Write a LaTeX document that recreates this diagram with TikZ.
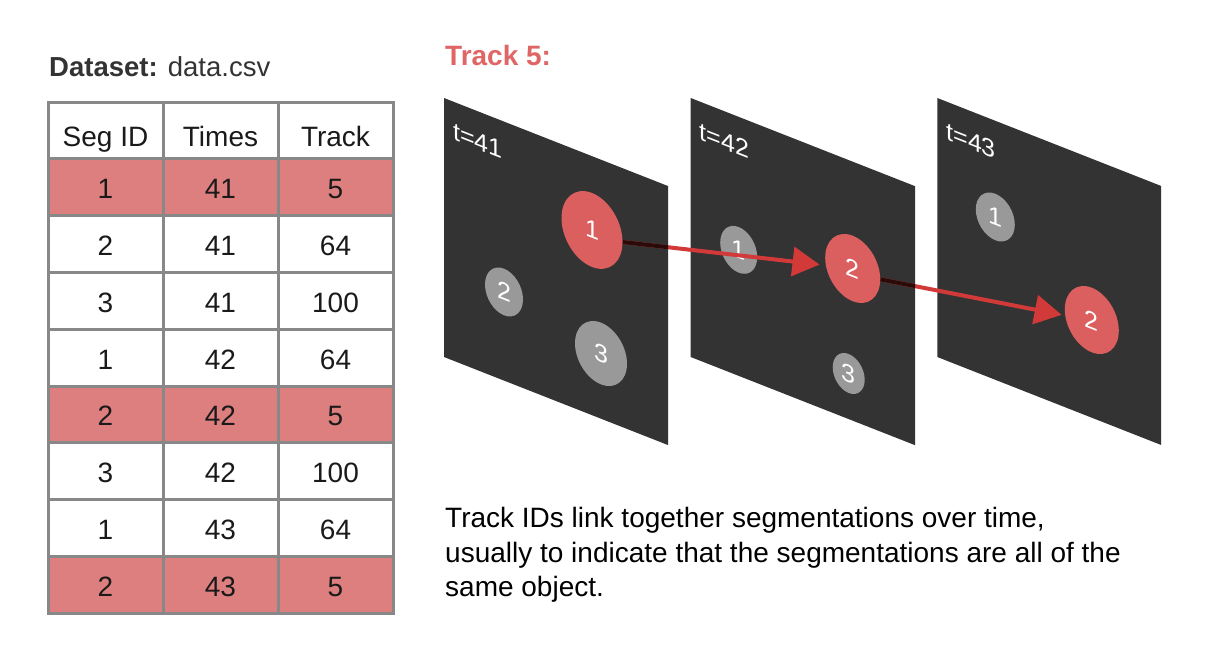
\documentclass[tikz,border=0pt]{standalone}
\usepackage{fontspec}
\setmainfont{Liberation Sans}
\usetikzlibrary{arrows.meta,shapes.geometric,calc}
\definecolor{tgray}{HTML}{888888}
\definecolor{pinkc}{HTML}{DE7F7F}
\definecolor{trackred}{HTML}{E06666}
\definecolor{ellred}{HTML}{DC5F5F}
\definecolor{arrred}{HTML}{D23A3A}
\definecolor{panelc}{HTML}{333333}
\definecolor{ellgray}{HTML}{999999}
\definecolor{darkline}{HTML}{2B0A0A}
\definecolor{txt}{HTML}{1A1A1A}
\pgfdeclarelayer{bg}
\pgfdeclarelayer{mid}
\pgfdeclarelayer{arr}
\pgfsetlayers{bg,mid,arr,main}
\begin{document}
\begin{tikzpicture}[x=1pt,y=-1pt,
  cell/.style={draw=tgray, line width=3pt, minimum width=115pt, minimum height=56.8pt,
    inner sep=0pt, font=\fontsize{28}{34}\selectfont, text=txt, text height=23pt, text depth=0pt},
  hdr/.style={cell, text height=32pt},
  hl/.style={cell, fill=pinkc},
  panel/.style={fill=panelc},
  ell/.style={ellipse, inner sep=0pt, transform shape, text=white, font=\fontsize{25}{30}\selectfont},
  redell/.style={ell, fill=ellred},
  grayell/.style={ell, fill=ellgray},
  tlabel/.style={anchor=base west, inner sep=0pt, transform shape, text=white, font=\fontsize{25}{30}\selectfont},
  arrowline/.style={draw=arrred, line width=4pt, -{Triangle[length=27pt,width=29pt]}},
  darkseg/.style={draw=darkline, line width=4pt}
]
\begin{pgfonlayer}{bg}
\fill[white] (0,0) rectangle (1231,664);
\end{pgfonlayer}
\useasboundingbox (0,0) rectangle (1231,664);

% title texts
\node[anchor=base west, inner sep=0pt, text=panelc, font=\fontsize{27.5}{30}\selectfont] (ds) at (49,76.7) {\textbf{Dataset:} data.csv};
\node[anchor=base west, inner sep=0pt, text=trackred, font=\fontsize{28}{30}\selectfont\bfseries] (tr) at (445,65.7) {Track 5:};

% table
\foreach \c/\t [count=\i from 0] in {Seg ID/h1,Times/h2,Track/h3}{
  \node[hdr] (\t) at ({105.5+115*\i},130.4) {\c};
}
\foreach \a/\b/\cc/\s [count=\r] in {1/41/5/hl,2/41/64/cell,3/41/100/cell,1/42/64/cell,2/42/5/hl,3/42/100/cell,1/43/64/cell,2/43/5/hl}{
  \node[\s] (r\r a) at (105.5,{102+56.8*(\r+0.5)}) {\a};
  \node[\s] (r\r b) at (220.5,{102+56.8*(\r+0.5)}) {\b};
  \node[\s] (r\r c) at (335.5,{102+56.8*(\r+0.5)}) {\cc};
}

% panel 1
\begin{scope}[shift={(444,98)}, cm={1,-0.393,0,1,(0,0)}]
  \begin{pgfonlayer}{bg}\fill[panel] (0,0) rectangle (224,259);\end{pgfonlayer}
  \begin{pgfonlayer}{mid}
    \node[tlabel] (t41) at (9,38) {t=41};
    \node[grayell, minimum width=38pt, minimum height=46.6pt] (p1b) at (60,170.4) {2};
    \node[grayell, minimum width=52pt, minimum height=61.7pt] (p1c) at (157,193.8) {3};
  \end{pgfonlayer}
  \node[redell, minimum width=61pt, minimum height=74pt] (p1a) at (148,73.8) {1};
\end{scope}

% panel 2
\begin{scope}[shift={(690.7,98)}, cm={1,-0.393,0,1,(0,0)}]
  \begin{pgfonlayer}{bg}\fill[panel] (0,0) rectangle (224.3,259);\end{pgfonlayer}
  \begin{pgfonlayer}{mid}
    \node[tlabel] (t42) at (9,38) {t=42};
    \node[grayell, minimum width=37pt, minimum height=45.7pt] (p2a) at (48,133) {1};
    \node[grayell, minimum width=32pt, minimum height=39pt] (p2c) at (158,213.4) {3};
  \end{pgfonlayer}
  \node[redell, minimum width=55pt, minimum height=65.5pt] (p2b) at (162,106.8) {2};
\end{scope}

% panel 3
\begin{scope}[shift={(937.3,98)}, cm={1,-0.393,0,1,(0,0)}]
  \begin{pgfonlayer}{bg}\fill[panel] (0,0) rectangle (223.7,259);\end{pgfonlayer}
  \begin{pgfonlayer}{mid}
    \node[tlabel] (t43) at (9,38) {t=43};
    \node[grayell, minimum width=39pt, minimum height=46.5pt] (p3a) at (58,96.2) {1};
  \end{pgfonlayer}
  \node[redell, minimum width=54pt, minimum height=64.6pt] (p3b) at (154.5,161.3) {2};
\end{scope}

% arrows
\begin{pgfonlayer}{arr}
  \draw[arrowline] (p1a.east) -- ($(p2b.west)+(-5.5,7)$);
  \draw[arrowline] (p2b.east) -- ($(p3b.west)+(-3,5.5)$);
  \begin{scope}
    \clip (444,98) -- (668,186) -- (668,445) -- (444,357) -- cycle;
    \draw[darkseg] (p1a.east) -- ($(p2b.west)+(-5.5,7)$);
  \end{scope}
  \begin{scope}
    \clip (690.7,98) -- (915,186) -- (915,445) -- (690.7,357) -- cycle;
    \draw[darkseg] (p2b.east) -- ($(p3b.west)+(-3,5.5)$);
  \end{scope}
\end{pgfonlayer}

% note
\node[anchor=north west, align=left, inner sep=0pt, text=black, font=\fontsize{28}{34.5}\selectfont] (note) at (445,507.5)
  {Track IDs link together segmentations over time,\\usually to indicate that the segmentations are all of the\\same object.};
\end{tikzpicture}
\end{document}
